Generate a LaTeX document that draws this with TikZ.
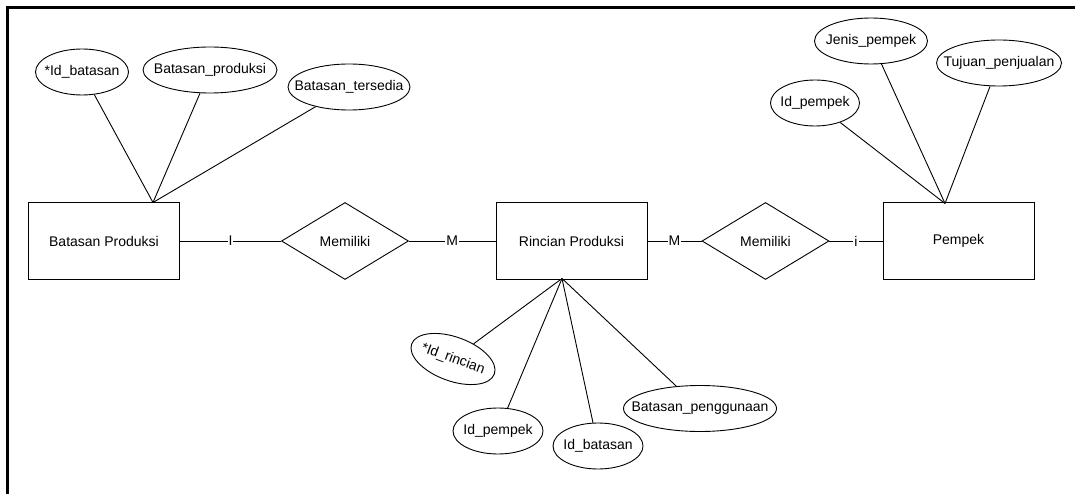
\documentclass[tikz,border=0pt]{standalone}
\usepackage{fontspec}
\setmainfont{Liberation Sans}
\usetikzlibrary{shapes.geometric}

\newcommand{\attrtext}[1]{\makebox[0pt]{#1}}

\tikzset{
  entity/.style={draw, minimum width=151pt, minimum height=77pt, inner sep=0pt},
  relation/.style={draw, diamond, minimum width=127pt, minimum height=77pt, inner sep=0pt, aspect=1.65},
  attrib/.style={draw, ellipse, inner sep=0pt, minimum height=46pt},
  card/.style={fill=white, inner sep=1pt}
}

\begin{document}
\begin{tikzpicture}[x=1pt,y=1pt,font=\fontsize{14}{16}\selectfont,line width=0.9pt]
\useasboundingbox (0,0) rectangle (1075,-494);
% frame
\draw [line width=3.5pt] (7.5,-494) -- (7.5,-7.5) -- (1075,-7.5);
% entities
\node [entity] (bp) at (104,-241) {Batasan Produksi};
\node [entity] (rp) at (571.5,-241) {Rincian Produksi};
\node [entity] (pk) at (958.5,-241) {Pempek};
% relations
\node [relation] (m1) at (345,-241) {Memiliki};
\node [relation] (m2) at (765.5,-241) {Memiliki};
\draw (bp) -- node [card] {I} (m1);
\draw (m1) -- node [card] {M} (rp);
\draw (rp) -- node [card] {M} (m2);
\draw (m2) -- node [card] {i} (pk);
% attributes of Batasan Produksi
\coordinate (bptop) at (153,-202.5);
\node [attrib, minimum width=93pt] (a1) at (82,-72) {\attrtext{*Id\_batasan}};
\node [attrib, minimum width=134pt] (a2) at (210,-70) {\attrtext{Batasan\_produksi}};
\node [attrib, minimum width=122pt] (a3) at (349,-87) {\attrtext{Batasan\_tersedia}};
\foreach \a in {a1,a2,a3}
  \draw (\a) -- (bptop);
% attributes of Pempek
\coordinate (pktop) at (945,-203.5);
\node [attrib, minimum width=89pt] (b1) at (815,-103) {\attrtext{Id\_pempek}};
\node [attrib, minimum width=113pt] (b2) at (871,-41) {\attrtext{Jenis\_pempek}};
\node [attrib, minimum width=125pt] (b3) at (999,-63) {\attrtext{Tujuan\_penjualan}};
\foreach \b in {b1,b2,b3}
  \draw (\b) -- (pktop);
% attributes of Rincian Produksi
\coordinate (rpbot) at (562,-278.5);
\node [attrib, minimum width=88pt, minimum height=44pt, rotate=-20] (c1) at (453,-359) {\attrtext{*Id\_rincian}};
\node [attrib, minimum width=90pt] (c2) at (498,-431) {\attrtext{Id\_pempek}};
\node [attrib, minimum width=90pt] (c3) at (598,-446) {\attrtext{Id\_batasan}};
\node [attrib, minimum width=153pt] (c4) at (700,-408.5) {\attrtext{Batasan\_penggunaan}};
\foreach \c in {c1,c2,c3,c4}
  \draw (\c) -- (rpbot);
\end{tikzpicture}
\end{document}
